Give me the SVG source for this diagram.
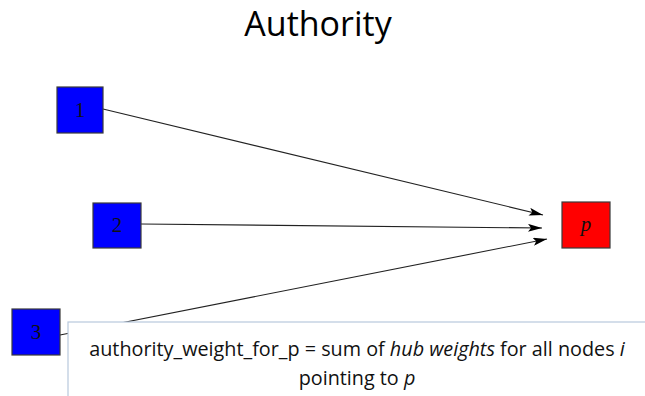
<svg xmlns="http://www.w3.org/2000/svg" width="645" height="396" viewBox="0 0 645 396">
<style>
.node{stroke:#3a3a3a;stroke-width:1.2}
.lbl{font-family:"Liberation Serif","DejaVu Serif",serif;font-size:21px;fill:#111;text-anchor:middle}
.edge{stroke:#222;stroke-width:1.1;fill:none;marker-end:url(#ah)}
.cap{font-family:"Open Sans","Noto Sans",sans-serif;font-size:19.8px;fill:#111;text-anchor:middle}
</style>
<defs>
<marker id="ah" markerWidth="14" markerHeight="8" refX="14" refY="4" orient="auto" markerUnits="userSpaceOnUse">
<path d="M0,0 L14,4 L0,8 L3,4 Z" fill="#000"/>
</marker>
</defs>
<rect width="645" height="396" fill="#fff"/>
<text x="318" y="36" font-family="Open Sans,Noto Sans,sans-serif" font-size="34" fill="#000" text-anchor="middle">Authority</text>
<g id="connectors">
<line class="edge" x1="103" y1="109" x2="543" y2="215"/>
<line class="edge" x1="141" y1="224" x2="542" y2="228"/>
<line class="edge" x1="60" y1="335" x2="547" y2="239"/>
</g>
<g id="node1"><rect class="node" x="57" y="87" width="46" height="46" fill="#0000ff"/><text class="lbl" x="80" y="117">1</text></g>
<g id="node2"><rect class="node" x="93" y="203" width="48" height="45" fill="#0000ff"/><text class="lbl" x="117" y="232">2</text></g>
<g id="node3"><rect class="node" x="12" y="309" width="48" height="46" fill="#0000ff"/><text class="lbl" x="36" y="339">3</text></g>
<g id="nodep"><rect class="node" x="562" y="202" width="48" height="46" fill="#ff0000"/><text class="lbl" x="586" y="231" font-style="italic">p</text></g>
<g id="callout">
<rect x="68" y="322" width="590" height="90" fill="#fff" stroke="#b8c8dc" stroke-width="1.2"/>
<text class="cap" x="357" y="356">authority_weight_for_p = sum of <tspan font-style="italic">hub weights</tspan> for all nodes <tspan font-style="italic">i</tspan></text>
<text class="cap" x="357" y="385">pointing to <tspan font-style="italic">p</tspan></text>
</g>
</svg>
